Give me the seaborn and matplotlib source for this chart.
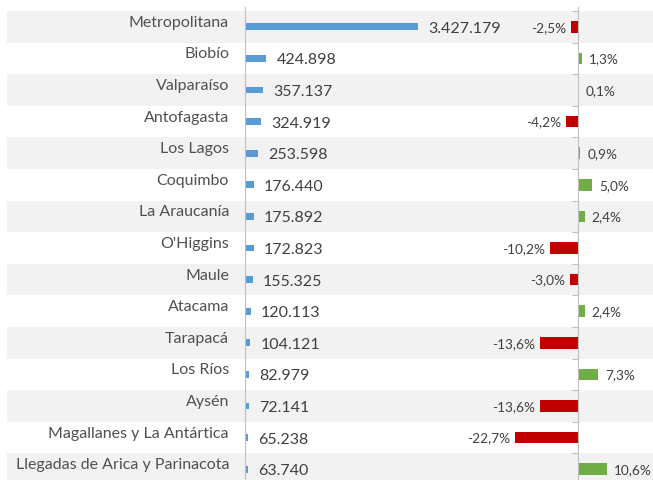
import matplotlib
matplotlib.use("Agg")
import matplotlib.pyplot as plt
import seaborn as sns

# data
regiones = ["Metropolitana", "Biobío", "Valparaíso", "Antofagasta", "Los Lagos",
            "Coquimbo", "La Araucanía", "O'Higgins", "Maule", "Atacama",
            "Tarapacá", "Los Ríos", "Aysén", "Magallanes y La Antártica",
            "Llegadas de Arica y Parinacota"]
llegadas = [3427179, 424898, 357137, 324919, 253598, 176440, 175892, 172823,
            155325, 120113, 104121, 82979, 72141, 65238, 63740]
variacion = [-2.5, 1.3, 0.1, -4.2, 0.9, 5.0, 2.4, -10.2, -3.0, 2.4,
             -13.6, 7.3, -13.6, -22.7, 10.6]

sns.set_style("white")
plt.rcParams["font.family"] = ["Lato", "DejaVu Sans"]

W, H = 653, 481
fig = plt.figure(figsize=(W / 100, H / 100), dpi=100)

top_px, row_px = 12, 31.6
n = len(regiones)
bot_px = top_px + n * row_px
ax_top = 8
ypos_bottom = 1 - bot_px / H
ypos_h = (bot_px - ax_top) / H
ylim = (n - 0.5, -0.5 - (top_px - ax_top) / row_px)

# background bands
ax_bg = fig.add_axes([7 / W, ypos_bottom, 1 - 7 / W, ypos_h])
for i in range(0, n, 2):
    ax_bg.axhspan(i - 0.5, i + 0.5, color="#F2F2F2", lw=0)
ax_bg.set_xlim(0, 1)
ax_bg.set_ylim(*ylim)
ax_bg.axis("off")

# left panel: llegadas
ax1 = fig.add_axes([245 / W, ypos_bottom, (W - 245) / W, ypos_h])
ax1.patch.set_alpha(0)
sns.barplot(x=llegadas, y=regiones, orient="h", color="#5B9BD5", width=0.22,
            linewidth=0, saturation=1, ax=ax1)
per_px = 3427179 / 173
ax1.set_xlim(0, (W - 245) * per_px)
ax1.set_ylim(*ylim)
for s in ["top", "right", "bottom"]:
    ax1.spines[s].set_visible(False)
ax1.spines["left"].set_color("#BFBFBF")
ax1.set_xticks([])
ax1.set_yticks([])
ax1.set_xlabel("")
ax1.set_ylabel("")
for i, (r, v) in enumerate(zip(regiones, llegadas)):
    ax1.annotate(r, xy=(0, i), xycoords=("axes fraction", "data"),
                 xytext=(-16, 5), textcoords="offset pixels",
                 ha="right", va="center", fontsize=11.5, color="#505050")
    ax1.annotate(f"{v:,}".replace(",", "."), xy=(v, i), xytext=(10, -1),
                 textcoords="offset pixels", ha="left", va="center",
                 fontsize=11.5, color="#404040")

# right panel: variacion
x0 = 430
ax2 = fig.add_axes([x0 / W, ypos_bottom, (W - x0) / W, ypos_h])
ax2.patch.set_alpha(0)
signo = ["neg" if v < 0 else "pos" for v in variacion]
sns.barplot(x=variacion, y=regiones, hue=signo, orient="h",
            palette={"neg": "#C00000", "pos": "#70AD47"}, width=0.37,
            dodge=False, legend=False, linewidth=0, saturation=1, ax=ax2)
pct_px = 2.76
ax2.set_xlim(-(578 - x0) / pct_px, (W - 578) / pct_px)
ax2.set_ylim(*ylim)
for s in ["top", "right", "bottom"]:
    ax2.spines[s].set_visible(False)
ax2.spines["left"].set_position(("data", 0))
ax2.spines["left"].set_color("#BFBFBF")
ax2.set_yticks([i - 0.5 for i in range(n + 1)])
ax2.set_yticklabels([])
ax2.tick_params(axis="y", length=4, color="#BFBFBF", direction="out", left=True)
ax2.set_xticks([])
ax2.set_xlabel("")
ax2.set_ylabel("")
for i, v in enumerate(variacion):
    txt = f"{v:.1f}%".replace(".", ",")
    if v < 0:
        ax2.annotate(txt, xy=(v, i), xytext=(-5, 0), textcoords="offset pixels",
                     ha="right", va="center", fontsize=9.8, color="#404040")
    else:
        ax2.annotate(txt, xy=(v, i), xytext=(7, 0), textcoords="offset pixels",
                     ha="left", va="center", fontsize=9.8, color="#404040")

fig.savefig("out.png", dpi=100)
